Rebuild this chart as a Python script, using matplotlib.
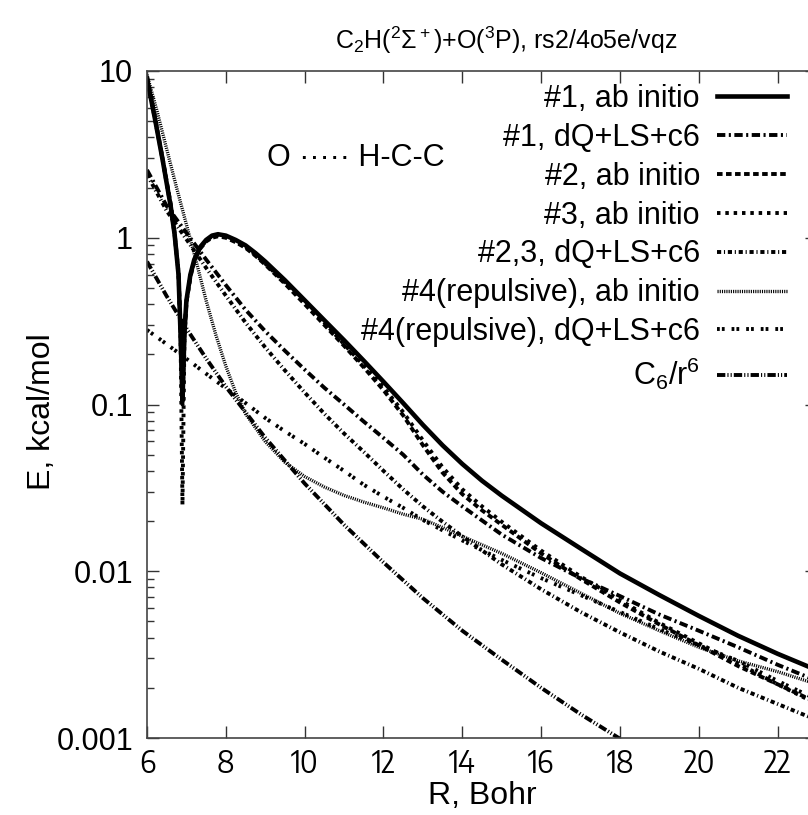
import matplotlib
matplotlib.use('agg')
import matplotlib.pyplot as plt
from matplotlib import font_manager
from matplotlib.font_manager import FontProperties
from matplotlib.textpath import TextPath
from matplotlib.ticker import LogLocator, NullFormatter

plt.rcParams['font.family'] = ['Liberation Sans', 'DejaVu Sans']
plt.rcParams['mathtext.fontset'] = 'custom'
plt.rcParams['mathtext.rm'] = 'Liberation Sans'
plt.rcParams['mathtext.it'] = 'Liberation Sans:italic'
plt.rcParams['mathtext.bf'] = 'Liberation Sans:bold'
plt.rcParams['mathtext.default'] = 'regular'
plt.rcParams['lines.scale_dashes'] = False

# |E| in kcal/mol, R in bohr
r_short = [6.0, 6.2, 6.4, 6.6, 6.7, 6.8, 6.85, 6.9, 6.95, 7.0, 7.1, 7.2, 7.35, 7.5, 7.65,
           7.8, 8.0, 8.25, 8.5, 8.75, 9.0, 9.5, 10.0, 10.5, 11.0, 11.5, 12.0, 12.5, 13.0,
           13.5, 14.0, 14.5, 15.0, 16.0, 17.0, 18.0, 19.0, 20.0, 21.0, 22.0, 23.0]
e_ab1 = [9.0, 5.2, 2.9, 1.55, 1.05, 0.6, 0.27, 0.105, 0.27, 0.42, 0.6, 0.74, 0.88, 0.97,
         1.03, 1.05, 1.03, 0.97, 0.9, 0.81, 0.72, 0.556, 0.422, 0.32, 0.243, 0.183, 0.137,
         0.102, 0.0755, 0.0569, 0.044, 0.0349, 0.0284, 0.0194, 0.0137, 0.0097, 0.0072,
         0.0054, 0.0041, 0.0032, 0.00255]
e_ab2 = [9.2, 5.3, 2.95, 1.6, 1.07, 0.62, 0.28, 0.1, 0.26, 0.41, 0.58, 0.72, 0.86, 0.95,
         1.0, 1.02, 1.0, 0.94, 0.87, 0.78, 0.69, 0.53, 0.4, 0.3, 0.225, 0.167, 0.122,
         0.086, 0.057, 0.039, 0.029, 0.0232, 0.019, 0.0128, 0.009, 0.0065, 0.0048,
         0.0036, 0.0027, 0.0021, 0.00163]
e_ab3 = [9.0, 5.2, 2.9, 1.55, 1.05, 0.6, 0.27, 0.025, 0.25, 0.41, 0.59, 0.73, 0.87, 0.96,
         1.02, 1.04, 1.02, 0.95, 0.88, 0.79, 0.7, 0.54, 0.41, 0.31, 0.23, 0.172, 0.127,
         0.09, 0.061, 0.042, 0.031, 0.0245, 0.0198, 0.0133, 0.0093, 0.0067, 0.0049,
         0.0037, 0.0028, 0.0021, 0.0016]

r_long = [6.0, 6.5, 7.0, 7.5, 8.0, 8.5, 9.0, 9.5, 10.0, 10.5, 11.0, 11.5, 12.0, 12.5,
          13.0, 13.5, 14.0, 15.0, 16.0, 17.0, 18.0, 19.0, 20.0, 21.0, 22.0, 23.0]
e_dq1 = [2.55, 1.55, 1.07, 0.74, 0.52, 0.37, 0.275, 0.21, 0.162, 0.126, 0.1, 0.079, 0.063,
         0.05, 0.038, 0.03, 0.0245, 0.0166, 0.012, 0.0091, 0.0071, 0.0055, 0.0044,
         0.0035, 0.00275, 0.0022]
e_dq23 = [2.4, 1.45, 0.98, 0.66, 0.45, 0.31, 0.22, 0.16, 0.118, 0.088, 0.067, 0.052, 0.04,
          0.031, 0.0245, 0.0198, 0.0162, 0.011, 0.0078, 0.0057, 0.0043, 0.0033, 0.0026,
          0.002, 0.0016, 0.00128]
e_dq4 = [0.28, 0.23, 0.188, 0.153, 0.125, 0.102, 0.083, 0.069, 0.058, 0.048, 0.04, 0.033,
         0.028, 0.024, 0.0203, 0.0176, 0.0153, 0.0117, 0.0091, 0.0072, 0.0057, 0.0045,
         0.0036, 0.0029, 0.0022, 0.0017]

r_ab4 = [6.0, 6.25, 6.5, 6.75, 7.0, 7.25, 7.5, 7.75, 8.0, 8.25, 8.5, 9.0, 9.5, 10.0, 10.5,
         11.0, 11.5, 12.0, 12.5, 13.0, 13.5, 14.0, 15.0, 16.0, 17.0, 18.0, 19.0, 20.0,
         21.0, 22.0, 23.0]
e_ab4 = [9.5, 5.8, 3.4, 2.0, 1.2, 0.72, 0.42, 0.26, 0.17, 0.118, 0.088, 0.06, 0.045, 0.037,
         0.032, 0.0285, 0.026, 0.024, 0.022, 0.0205, 0.0183, 0.0162, 0.0128, 0.0098,
         0.0074, 0.0056, 0.0044, 0.0035, 0.0029, 0.0025, 0.0021]

r_c6 = [6.0, 6.5, 7.0, 7.5, 8.0, 9.0, 10.0, 11.0, 12.0, 13.0, 14.0, 15.0, 16.0, 17.0, 18.0]
e_c6 = [0.72, 0.446, 0.286, 0.189, 0.128, 0.0632, 0.0336, 0.019, 0.0113, 0.0069, 0.0044,
        0.00295, 0.002, 0.00139, 0.00099]

labels = ['#1, ab initio', '#1, dQ+LS+c6', '#2, ab initio', '#3, ab initio',
          '#2,3, dQ+LS+c6', '#4(repulsive), ab initio', '#4(repulsive), dQ+LS+c6',
          'C$_6$/r$^6$']
title = 'C$_2$H($^2\\Sigma^+$)+O($^3$P), rs2/4o5e/vqz'
x_ticks = [6, 8, 10, 12, 14, 16, 18, 20, 22]
y_ticks = [0.001, 0.01, 0.1, 1, 10]
y_tick_labels = ['0.001', '0.01', '0.1', '1', '10']


def narrow_face():
    # the x tick numbers look condensed in the reference;
    # pick an installed condensed sans face if there is one
    best, best_ratio = None, 1.45
    for f in font_manager.fontManager.ttflist:
        tag = (f.name + ' ' + f.fname).lower()
        if f.style != 'normal' or f.weight not in (400, 'normal', 'regular'):
            continue
        if not any(k in tag for k in ('narrow', 'condensed')) and f.stretch == 'normal':
            continue
        if any(k in tag for k in ('mono', 'serif', 'bold', 'italic', 'light', 'medium',
                                  'black', 'thin', 'cjk', 'display', 'ui')):
            continue
        try:
            ext = TextPath((0, 0), '22', prop=FontProperties(fname=f.fname), size=100).get_extents()
        except Exception:
            continue
        ratio = ext.width / ext.height
        if abs(ratio - 1.15) < abs(best_ratio - 1.15):
            best, best_ratio = f.fname, ratio
    return best


face = narrow_face()
if face:
    tick_prop = FontProperties(fname=face)
    h100 = TextPath((0, 0), '22', prop=tick_prop, size=100).get_extents().height
    tick_prop.set_size(100 * 22.5 / h100 * 0.72)
else:
    tick_prop = FontProperties(family=['Liberation Sans', 'DejaVu Sans'], size=18)

fs = 22
fig = plt.figure(figsize=(8.08, 8.15), dpi=100)
ax = fig.add_axes([147 / 808, 77 / 815, 670 / 808, 667 / 815])

series = [
    (r_short, e_ab1, dict(lw=3.3, ls='-')),
    (r_long, e_dq1, dict(lw=2.8, ls=(0, (6, 2.5, 1.5, 2.5)))),
    (r_short, e_ab2, dict(lw=2.8, ls=(0, (4, 2.5)))),
    (r_short, e_ab3, dict(lw=2.8, ls=(0, (2.5, 3.5)))),
    (r_long, e_dq23, dict(lw=2.8, ls=(0, (3, 2, 0.8, 2)))),
    (r_ab4, e_ab4, dict(lw=2.4, ls=(0, (0.8, 0.8)))),
    (r_long, e_dq4, dict(lw=2.8, ls=(0, (2, 1.5, 2, 5)))),
    (r_c6, e_c6, dict(lw=2.8, ls=(0, (6, 1.5, 0.8, 1.5, 0.8, 1.5)))),
]
handles = []
for (r, e, st), lab in zip(series, labels):
    h, = ax.plot(r, e, color='black', label=lab, **st)
    handles.append(h)

ax.set_yscale('log')
ax.set_xlim(6, 23)
ax.set_ylim(0.001, 10)
ax.set_xticks(x_ticks)
ax.set_yticks(y_ticks, labels=y_tick_labels)
ax.yaxis.set_minor_locator(LogLocator(base=10, subs=range(2, 10)))
ax.yaxis.set_minor_formatter(NullFormatter())
ax.tick_params(which='both', direction='in', top=True, right=True, color='#333333',
               width=1.0)
ax.tick_params(which='major', length=8.5)
ax.tick_params(which='minor', length=5)
ax.tick_params(axis='y', pad=10, labelsize=fs)
ax.tick_params(axis='x', pad=7)
for t in ax.get_xticklabels():
    t.set_fontproperties(tick_prop)
for sp in ax.spines.values():
    sp.set_color('#444444')
    sp.set_linewidth(1.2)

ax.set_xlabel('R, Bohr', fontsize=23)
ax.set_ylabel('E, kcal/mol', fontsize=23)
ax.xaxis.set_label_coords(0.5, -0.065)
ax.yaxis.set_label_coords(-0.135, 0.49)

fig.text(506 / 808, 1 - 40 / 815, title, ha='center', va='center', fontsize=18)
ax.text(0.179, 0.8696, 'O \u00b7\u00b7\u00b7\u00b7\u00b7 H-C-C', transform=ax.transAxes,
        ha='left', va='center', fontsize=fs)

ax.legend(handles, labels, loc='upper right', bbox_to_anchor=(787 / 808, 1 - 84 / 815),
          bbox_transform=fig.transFigure, frameon=False, markerfirst=False,
          handlelength=2.3, handletextpad=0.55, labelspacing=0.29, borderpad=0,
          borderaxespad=0, fontsize=fs)

fig.savefig('out.png', dpi=100)
